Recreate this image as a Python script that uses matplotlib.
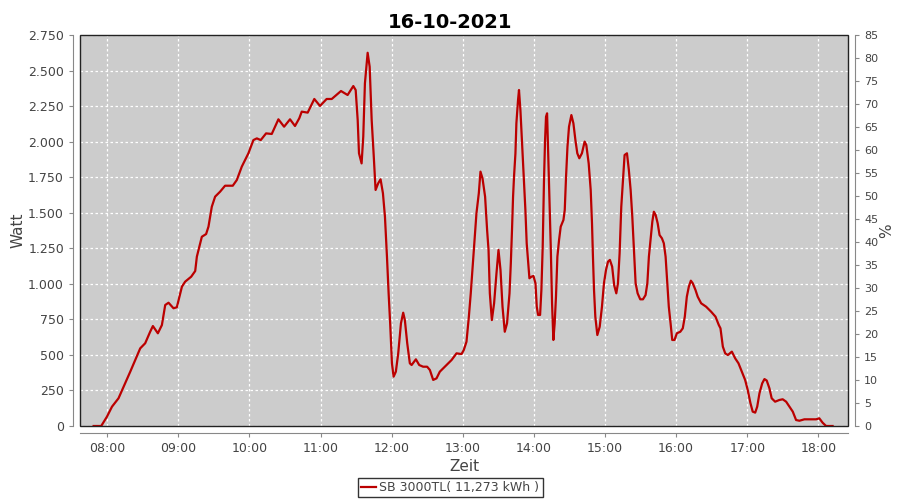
import matplotlib
matplotlib.use("Agg")
import matplotlib.pyplot as plt
from matplotlib.patches import Rectangle
from matplotlib.ticker import FuncFormatter, FixedLocator

title = "16-10-2021"
series_label = "SB 3000TL( 11,273 kWh )"

# time in minutes since midnight
zeit_min = [468.5, 474.9, 479.7, 484.0, 489.5, 495.2, 499.4, 503.6, 507.8, 512.0,
            516.2, 518.5, 522.7, 526.1, 528.9, 531.7, 535.9, 538.7, 543.0, 545.7,
            550.8, 554.2, 555.6, 559.8, 563.4, 565.4, 568.2, 571.0, 575.2, 579.4,
            585.9, 589.3, 593.5, 599.1, 603.3, 606.2, 609.5, 614.0, 618.8, 621.6,
            624.4, 629.2, 634.2, 638.4, 642.0, 644.1, 649.1, 654.7, 659.5, 665.1,
            669.4, 677.2, 682.8, 687.6, 689.6, 691.3, 692.4, 694.6, 696.0, 697.4,
            699.7, 701.4, 703.1, 704.8, 706.4, 708.6, 710.6, 712.6, 714.3, 716.0,
            717.4, 718.7, 720.2, 721.6, 723.5, 725.5, 727.8, 729.7, 731.1, 733.1,
            735.3, 736.8, 740.4, 743.2, 746.5, 749.9, 752.2, 755.0, 757.8, 760.6,
            766.3, 770.5, 774.7, 778.9, 780.8, 783.1, 785.1, 786.7, 789.3, 791.5,
            793.5, 794.9, 796.6, 798.8, 800.5, 801.7, 802.8, 804.5, 806.4, 808.4,
            810.1, 811.8, 813.5, 815.4, 817.3, 819.4, 820.5, 821.5, 822.4, 823.2,
            824.4, 825.2, 826.6, 827.4, 828.6, 830.0, 831.4, 832.8, 833.9, 835.0,
            836.2, 837.9, 839.6, 841.3, 842.4, 843.5, 845.2, 846.3, 847.4, 848.5,
            849.4, 850.2, 851.1, 851.9, 853.1, 854.2, 855.3, 856.4, 857.5, 858.6,
            859.8, 861.2, 862.6, 864.9, 866.0, 867.1, 868.3, 869.6, 871.6, 873.3,
            875.0, 876.6, 878.3, 880.5, 882.8, 884.2, 886.2, 887.9, 889.0, 889.8,
            890.7, 891.8, 893.5, 895.5, 897.4, 899.1, 900.8, 902.5, 904.1, 906.0,
            907.7, 909.5, 910.9, 912.3, 913.7, 915.1, 916.5, 918.5, 920.1, 921.6,
            923.0, 924.4, 925.8, 927.5, 929.7, 932.0, 934.2, 935.7, 937.0, 938.7,
            939.9, 941.2, 942.7, 944.4, 946.0, 948.0, 949.6, 951.1, 952.5, 953.8,
            955.3, 956.7, 958.6, 960.6, 963.5, 965.6, 967.3, 969.0, 970.7, 972.4,
            974.0, 976.3, 978.2, 981.1, 985.3, 989.5, 993.2, 996.0, 997.4, 999.4,
            1001.4, 1003.6, 1007.0, 1009.8, 1012.6, 1015.4, 1018.2, 1020.4, 1022.7, 1024.6,
            1026.7, 1028.4, 1030.3, 1032.6, 1034.5, 1036.4, 1038.7, 1040.6, 1043.5, 1047.1,
            1049.9, 1052.8, 1055.6, 1058.4, 1061.2, 1064.0, 1068.2, 1072.4, 1078.1, 1080.8,
            1083.6, 1086.5, 1092.0]

watt = [0, 0, 65, 136, 195, 302, 382, 464, 546, 582,
        663, 703, 652, 710, 851, 867, 828, 835, 980, 1015,
        1050, 1090, 1191, 1331, 1350, 1402, 1542, 1613, 1648, 1690,
        1690, 1730, 1824, 1918, 2011, 2023, 2011, 2058, 2054, 2105,
        2157, 2105, 2157, 2110, 2164, 2211, 2204, 2300, 2251, 2300,
        2300, 2356, 2328, 2391, 2363, 2152, 1918, 1847, 2035, 2410,
        2625, 2527, 2152, 1906, 1660, 1707, 1735, 1637, 1472, 1191,
        933, 722, 441, 347, 382, 511, 722, 797, 745, 582,
        441, 429, 469, 429, 417, 417, 394, 324, 335, 382,
        429, 464, 511, 506, 534, 593, 769, 933, 1238, 1496,
        1637, 1789, 1742, 1613, 1378, 1238, 933, 745, 863, 1074,
        1238, 1097, 839, 663, 722, 933, 1144, 1378, 1613, 1753,
        1918, 2129, 2293, 2363, 2222, 1988, 1753, 1519, 1285, 1168,
        1039, 1050, 1055, 1004, 839, 781, 781, 957, 1261, 1730,
        2011, 2175, 2199, 1964, 1613, 1261, 863, 605, 722, 909,
        1191, 1308, 1402, 1449, 1519, 1753, 1964, 2105, 2187, 2129,
        2011, 1918, 1883, 1918, 2000, 1976, 1847, 1660, 1426, 1191,
        957, 769, 640, 698, 839, 1004, 1097, 1156, 1168, 1121,
        990, 933, 1004, 1215, 1542, 1730, 1906, 1918, 1800, 1660,
        1472, 1238, 1004, 933, 891, 891, 921, 1004, 1191, 1331,
        1437, 1507, 1484, 1426, 1343, 1320, 1285, 1191, 1004, 839,
        722, 605, 605, 652, 663, 687, 769, 909, 980, 1022,
        1004, 957, 909, 863, 839, 804, 769, 710, 687, 558,
        511, 499, 523, 476, 441, 382, 324, 253, 160, 101,
        94, 136, 230, 300, 330, 320, 265, 195, 171, 183,
        188, 171, 136, 101, 42, 37, 47, 47, 47, 54,
        23, 0, 0]

x_ticks_min = [480, 540, 600, 660, 720, 780, 840, 900, 960, 1020, 1080]
x_limits = (457, 1105)
watt_ticks = list(range(0, 2751, 250))
percent_ticks = list(range(0, 86, 5))

LINE = "#bb0000"
TXT = "#444444"
AXC = "#888888"

fig = plt.figure(figsize=(9, 5), dpi=100, facecolor="white")
ax = fig.add_axes([80/900, 74/500, 768/900, 391/500])
ax.set_facecolor("#cccccc")

ax.plot(zeit_min, watt, color=LINE, linewidth=1.6, label=series_label, zorder=3)

ax.set_xlim(*x_limits)
ax.set_ylim(0, 2750)
ax.xaxis.set_major_locator(FixedLocator(x_ticks_min))
ax.xaxis.set_major_formatter(FuncFormatter(lambda v, p: f"{int(v)//60:02d}:{int(v)%60:02d}"))
ax.yaxis.set_major_locator(FixedLocator(watt_ticks))
ax.yaxis.set_major_formatter(FuncFormatter(lambda v, p: f"{int(v):,}".replace(",", ".")))

ax.grid(True, color="white", linestyle=(0, (2, 2)), linewidth=0.9)
ax.set_axisbelow(True)

for s in ["top", "right"]:
    ax.spines[s].set_visible(False)
for s in ["bottom", "left"]:
    ax.spines[s].set_position(("outward", 5))
    ax.spines[s].set_color(AXC)
ax.tick_params(axis="both", colors=AXC, labelcolor=TXT, labelsize=9, length=3, direction="out")

ax.add_patch(Rectangle((0, 0), 1, 1, transform=ax.transAxes, fill=False,
                       edgecolor="#222222", linewidth=1.0, zorder=4, clip_on=False))

ax2 = ax.twinx()
ax2.set_ylim(0, 85)
ax2.yaxis.set_major_locator(FixedLocator(percent_ticks))
for s in ["top", "left", "bottom"]:
    ax2.spines[s].set_visible(False)
ax2.spines["right"].set_position(("outward", 5))
ax2.spines["right"].set_color(AXC)
ax2.tick_params(axis="y", colors=AXC, labelcolor=TXT, labelsize=8, length=3, direction="out")
ax2.set_ylabel("%", color=TXT, fontsize=11, labelpad=1)

ax.set_xlabel("Zeit", color=TXT, fontsize=11, labelpad=3)
ax.set_ylabel("Watt", color=TXT, fontsize=11, labelpad=2)
fig.suptitle(title, fontsize=14, fontweight="bold", y=0.975, color="black")

leg = fig.legend(loc="center", bbox_to_anchor=(0.5, 0.025), fontsize=9, frameon=True,
                 fancybox=False, edgecolor="black", handlelength=1.2, handletextpad=0.3,
                 borderpad=0.25, labelcolor=TXT)
leg.get_frame().set_linewidth(1.0)

fig.savefig("out.png", dpi=100, facecolor="white")
